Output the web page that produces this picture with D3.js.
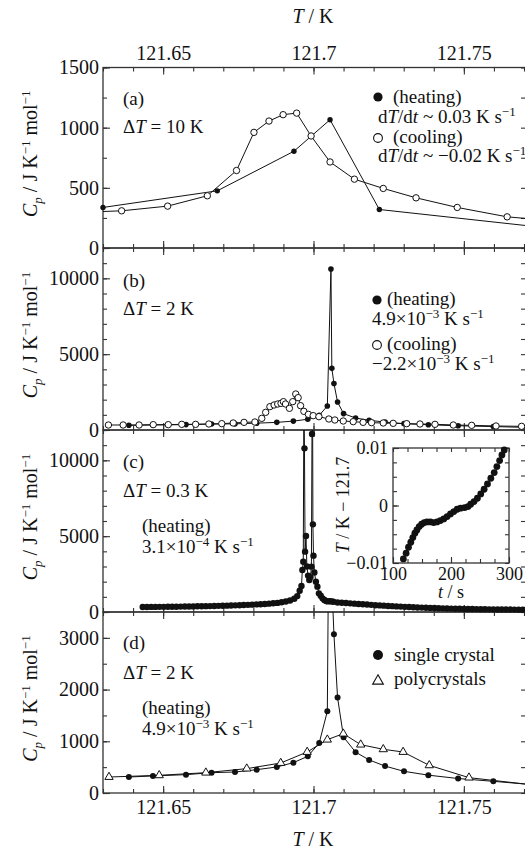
<!DOCTYPE html>
<html>
<head>
<meta charset="UTF-8">
<title>Cp near 121.7 K</title>
<script src="https://cdn.jsdelivr.net/npm/d3@7"></script>
<style>
  body { margin: 0; background: #fff; }
</style>
</head>
<body>
<script>
var FONT = "'Liberation Serif', 'Times New Roman', Times, serif";

// ---- data (T in K, Cp in J K^-1 mol^-1) ----
var xTickValues = [121.65, 121.7, 121.75];
var xTickLabels = ["121.65", "121.7", "121.75"];

// (a) dT = 10 K
var heatA = [[121.6300,337],[121.6680,475],[121.6935,804],[121.7055,1066],[121.7219,320],[121.7800,161]];
var coolA = [[121.6220,296],[121.6362,309],[121.6515,348],[121.6647,434],[121.6744,644],[121.6802,961],
  [121.6852,1055],[121.6899,1108],[121.6944,1121],[121.6992,931],[121.7055,715],[121.7136,572],
  [121.7232,495],[121.7341,417],[121.7478,337],[121.7644,259],[121.7800,225]];

// (b) and (d) single crystal, dT = 2 K, heating 4.9e-3 K/s
var heatB = [[121.6386,309],[121.6466,330],[121.6576,355],[121.6661,393],[121.6739,406],[121.6811,451],
  [121.6878,503],[121.6933,587],[121.6981,709],[121.7019,967],[121.7046,1580],[121.7058,10615],
  [121.7061,4066],[121.7068,3070],[121.7080,1845],[121.7100,1080],[121.7140,790],[121.7185,640],
  [121.7238,520],[121.7301,419],[121.7382,345],[121.7481,280],[121.7598,226],[121.7800,126]];
var coolB = [[121.6318,330],[121.6367,330],[121.6420,330],[121.6467,352],[121.6517,352],[121.6562,374],
  [121.6608,374],[121.6652,396],[121.6695,418],[121.6733,462],[121.6769,505],[121.6805,527],
  [121.6828,769],[121.6841,1165],[121.6855,1538],[121.6869,1648],[121.6881,1714],[121.6892,1758],
  [121.6900,1868],[121.6907,1714],[121.6920,1429],[121.6931,1868],[121.6941,2373],[121.6949,2132],
  [121.6957,1604],[121.6968,1231],[121.6983,1033],[121.6999,945],[121.7018,879],[121.7051,725],
  [121.7071,659],[121.7099,593],[121.7132,549],[121.7165,505],[121.7193,483],[121.7232,462],
  [121.7265,440],[121.7310,418],[121.7354,396],[121.7404,374],[121.7465,330],[121.7526,308],
  [121.7607,264],[121.7692,242]];

// (c) dT = 0.3 K, heating 3.1e-4 K/s
var heatC = [[121.6432,330],[121.6446,330],[121.6460,335],[121.6474,335],[121.6488,340],[121.6502,340],
  [121.6516,345],[121.6530,350],[121.6544,350],[121.6558,355],[121.6572,360],[121.6586,365],
  [121.6600,370],[121.6614,375],[121.6628,380],[121.6642,385],[121.6656,390],[121.6670,400],
  [121.6684,405],[121.6698,415],[121.6712,420],[121.6726,430],[121.6740,440],[121.6754,450],
  [121.6768,460],[121.6782,470],[121.6796,485],[121.6810,500],[121.6824,515],[121.6838,530],
  [121.6852,550],[121.6866,575],[121.6880,600],[121.6894,640],[121.6908,690],[121.6922,760],
  [121.6936,870],[121.6946,1050],[121.6954,1400],[121.6960,1714],[121.6963,2769],[121.6966,3318],
  [121.6968,14000],[121.6970,10791],[121.6972,3978],[121.6975,5011],[121.6978,3000],[121.6982,2400],
  [121.6986,2110],[121.6990,2300],[121.6993,2989],[121.6995,11736],[121.6997,14000],[121.6998,5780],
  [121.7000,3714],[121.7003,2600],[121.7008,2000],[121.7013,1670],[121.7018,1231],[121.7024,1077],
  [121.7030,901],[121.7036,791],[121.7042,725],[121.7048,700],[121.7054,720],[121.7060,700],
  [121.7066,680],[121.7080,630],[121.7094,610],[121.7108,590],[121.7122,570],[121.7136,550],
  [121.7150,530],[121.7164,510],[121.7178,490],[121.7192,470],[121.7206,450],[121.7220,435],
  [121.7234,420],[121.7248,400],[121.7262,385],[121.7276,370],[121.7290,355],[121.7304,340],
  [121.7318,330],[121.7332,315],[121.7346,300],[121.7360,290],[121.7374,280],[121.7388,270],
  [121.7402,260],[121.7416,250],[121.7430,240],[121.7444,232],[121.7458,225],[121.7472,218],
  [121.7486,210],[121.7500,205],[121.7514,200],[121.7528,195],[121.7542,190],[121.7556,185],
  [121.7570,180],[121.7584,176],[121.7598,172],[121.7612,168],[121.7626,165],[121.7640,162],
  [121.7654,160],[121.7668,158],[121.7682,156],[121.7696,154]];

// (c) inset: T - 121.7 vs t
var insetT = [117.9,122.6,126.7,130.7,134.2,137.7,141.2,145.2,149.3,153.9,158.6,164.3,170.1,175.9,
  181.7,187.5,193.3,199.1,204.9,210.7,216.5,223.5,229.3,233.9,239.7,245.5,251.3,257.1,262.9,268.7,
  274.5,279.1,283.8,287.8,291.8];
var insetV = [-0.00929,-0.0083,-0.00726,-0.00639,-0.00558,-0.00482,-0.00424,-0.00366,-0.00326,-0.00297,
  -0.00285,-0.00285,-0.00297,-0.00285,-0.00262,-0.00233,-0.00192,-0.00146,-0.00105,-0.00065,-0.00047,
  -0.00036,-0.00018,0.00022,0.00068,0.00126,0.00202,0.00283,0.00376,0.00474,0.00573,0.00677,0.00781,
  0.0088,0.00967];

// (d) polycrystals
var polyD = [[121.6320,309],[121.6487,342],[121.6642,393],[121.6778,471],[121.6891,580],[121.6979,793],
  [121.7046,1031],[121.7099,1147],[121.7157,935],[121.7232,845],[121.7298,793],[121.7385,535],
  [121.7517,297],[121.7800,110]];

// ---- layout ----
var svg = d3.select("body").append("svg").attr("width", 525).attr("height", 849)
  .attr("font-family", FONT);
var x = d3.scaleLinear().domain([121.63, 121.771]).range([103, 527]);
var xMinor = d3.range(12163, 12178).map(function(k){ return k/100; })
  .filter(function(v){ return v <= x.domain()[1]; });

var panels = [
  {id:"a", top:67.5, bottom:248, ymax:1500, major:[0,500,1000,1500], step:250},
  {id:"b", top:248, bottom:430, ymax:12000, major:[0,5000,10000], step:1000},
  {id:"c", top:430, bottom:612, ymax:12000, major:[0,5000,10000], step:1000},
  {id:"d", top:612, bottom:793, ymax:3500, major:[0,1000,2000,3000], step:500}
];

// text with italic / super / sub parts
function rich(t, parts){
  var shift = 0;
  parts.forEach(function(p){
    var s = p[1] || "";
    var target = s.indexOf("sup") >= 0 ? -7 : (s.indexOf("sub") >= 0 ? 5 : 0);
    var ts = t.append("tspan").text(p[0]).attr("dy", target - shift);
    shift = target;
    if (target !== 0) ts.attr("font-size", 13);
    if (s === "i" || s === "isub") ts.attr("font-style", "italic");
  });
  return t;
}
function label(xp, yp, parts, size, anchor){
  var t = svg.append("text").attr("x", xp).attr("y", yp).attr("fill", "#111")
    .attr("font-size", size || 19).attr("text-anchor", anchor || "start");
  return rich(t, parts);
}

function styleAxis(g, size){
  g.attr("font-family", FONT).attr("font-size", size);
  g.select(".domain").remove();
  g.selectAll("line").attr("stroke", "#333").attr("stroke-width", 1.1);
  g.selectAll("text").attr("fill", "#111");
}

var ys = {};
panels.forEach(function(p){
  var y = d3.scaleLinear().domain([0, p.ymax]).range([p.bottom, p.top]);
  ys[p.id] = y;
  var yMinor = d3.range(0, p.ymax + 1, p.step);
  var fmt = d3.format("d");

  svg.append("clipPath").attr("id", "clip-" + p.id).append("rect")
    .attr("x", x.range()[0]).attr("y", p.top)
    .attr("width", x.range()[1] - x.range()[0]).attr("height", p.bottom - p.top);

  // bottom / top
  svg.append("g").attr("transform", "translate(0," + p.bottom + ")")
    .call(d3.axisBottom(x).tickValues(xMinor).tickSize(-4).tickFormat("")).call(styleAxis, 20);
  svg.append("g").attr("transform", "translate(0," + p.bottom + ")")
    .call(d3.axisBottom(x).tickValues(xTickValues).tickSize(-7).tickPadding(7)
      .tickFormat(function(d, i){ return p.id === "d" ? xTickLabels[i] : ""; }))
    .call(styleAxis, 20);
  svg.append("g").attr("transform", "translate(0," + p.top + ")")
    .call(d3.axisTop(x).tickValues(xMinor).tickSize(-4).tickFormat("")).call(styleAxis, 20);
  svg.append("g").attr("transform", "translate(0," + p.top + ")")
    .call(d3.axisTop(x).tickValues(xTickValues).tickSize(-7).tickPadding(8)
      .tickFormat(function(d, i){ return p.id === "a" ? xTickLabels[i] : ""; }))
    .call(styleAxis, 20);
  // left / right
  svg.append("g").attr("transform", "translate(" + x.range()[0] + ",0)")
    .call(d3.axisLeft(y).tickValues(yMinor).tickSize(-4).tickFormat("")).call(styleAxis, 20);
  svg.append("g").attr("transform", "translate(" + x.range()[0] + ",0)")
    .call(d3.axisLeft(y).tickValues(p.major).tickSize(-7).tickPadding(4).tickFormat(fmt))
    .call(styleAxis, 20);
  svg.append("g").attr("transform", "translate(" + x.range()[1] + ",0)")
    .call(d3.axisRight(y).tickValues(yMinor).tickSize(-6).tickFormat("")).call(styleAxis, 20);

  svg.append("rect").attr("x", x.range()[0]).attr("y", p.top)
    .attr("width", x.range()[1] - x.range()[0]).attr("height", p.bottom - p.top)
    .attr("fill", "none").attr("stroke", "#333").attr("stroke-width", 1.3);

  // y title
  var t = svg.append("text").attr("text-anchor", "middle").attr("font-size", 20).attr("fill", "#111")
    .attr("transform", "translate(37," + ((p.top + p.bottom) / 2 - 4) + ") rotate(-90)");
  rich(t, [["C","i"],["p","isub"],[" / J K",""],["\u22121","sup"],[" mol",""],["\u22121","sup"]]);
});

// axis titles
label(313, 23, [["T","i"],[" / K",""]], 20, "middle");
label(313, 846, [["T","i"],[" / K",""]], 20, "middle");

// ---- series ----
function inside(p, d){
  return d[0] >= x.domain()[0] && d[0] <= x.domain()[1] && d[1] <= p.ymax;
}
function drawLine(p, data){
  var y = ys[p.id];
  svg.append("path").datum(data)
    .attr("clip-path", "url(#clip-" + p.id + ")")
    .attr("fill", "none").attr("stroke", "#111").attr("stroke-width", 1)
    .attr("d", d3.line().x(function(d){ return x(d[0]); }).y(function(d){ return y(d[1]); }));
}
function drawDots(p, data, r, open){
  var y = ys[p.id];
  svg.append("g").selectAll("circle")
    .data(data.filter(function(d){ return inside(p, d); }))
    .enter().append("circle")
      .attr("cx", function(d){ return x(d[0]); })
      .attr("cy", function(d){ return y(d[1]); })
      .attr("r", r)
      .attr("fill", open ? "#fff" : "#111")
      .attr("stroke", "#111").attr("stroke-width", open ? 1 : 0);
}
function drawTri(p, data, size){
  var y = ys[p.id];
  svg.append("g").selectAll("path")
    .data(data.filter(function(d){ return inside(p, d); }))
    .enter().append("path")
      .attr("transform", function(d){ return "translate(" + x(d[0]) + "," + y(d[1]) + ")"; })
      .attr("d", d3.symbol(d3.symbolTriangle, size))
      .attr("fill", "#fff").attr("stroke", "#111").attr("stroke-width", 1);
}

var pa = panels[0], pb = panels[1], pc = panels[2], pd = panels[3];

drawLine(pa, heatA); drawLine(pa, coolA);
drawDots(pa, heatA, 2.7, false); drawDots(pa, coolA, 3.2, true);

drawLine(pb, heatB); drawLine(pb, coolB);
drawDots(pb, heatB, 2.8, false); drawDots(pb, coolB, 3.2, true);

drawLine(pc, heatC);
drawDots(pc, heatC, 3.2, false);

drawLine(pd, heatB); drawLine(pd, polyD);
drawDots(pd, heatB, 3, false); drawTri(pd, polyD, 30);

// ---- inset in (c) ----
var ix = d3.scaleLinear().domain([100, 300]).range([393, 509]);
var iy = d3.scaleLinear().domain([-0.01, 0.01]).range([563, 448]);
svg.append("rect").attr("x", 393).attr("y", 448).attr("width", 116).attr("height", 115).attr("fill", "#fff");
svg.append("g").attr("transform", "translate(0,563)")
  .call(d3.axisBottom(ix).tickValues(d3.range(100, 301, 25)).tickSize(-4).tickFormat("")).call(styleAxis, 18);
svg.append("g").attr("transform", "translate(0,563)")
  .call(d3.axisBottom(ix).tickValues([100, 200, 300]).tickSize(-6).tickPadding(4)).call(styleAxis, 18);
svg.append("g").attr("transform", "translate(0,448)")
  .call(d3.axisTop(ix).tickValues(d3.range(100, 301, 25)).tickSize(-4).tickFormat("")).call(styleAxis, 18);
svg.append("g").attr("transform", "translate(393,0)")
  .call(d3.axisLeft(iy).tickValues(d3.range(-0.01, 0.0101, 0.0025)).tickSize(-4).tickFormat("")).call(styleAxis, 18);
svg.append("g").attr("transform", "translate(393,0)")
  .call(d3.axisLeft(iy).tickValues([-0.01, 0, 0.01]).tickSize(-6).tickPadding(5)
    .tickFormat(function(d){ return d === 0 ? "0" : (d < 0 ? "\u22120.01" : "0.01"); }))
  .call(styleAxis, 18);
svg.append("g").attr("transform", "translate(509,0)")
  .call(d3.axisRight(iy).tickValues(d3.range(-0.01, 0.0101, 0.0025)).tickSize(-4).tickFormat("")).call(styleAxis, 18);
svg.append("rect").attr("x", 393).attr("y", 448).attr("width", 116).attr("height", 115)
  .attr("fill", "none").attr("stroke", "#333").attr("stroke-width", 1.3);
svg.append("g").selectAll("circle").data(insetT).enter().append("circle")
  .attr("cx", function(d){ return ix(d); })
  .attr("cy", function(d, i){ return iy(insetV[i]); })
  .attr("r", 3.4).attr("fill", "#111");
var it = svg.append("text").attr("text-anchor", "middle").attr("font-size", 18).attr("fill", "#111")
  .attr("transform", "translate(349,505) rotate(-90)");
rich(it, [["T","i"],[" / K \u2212 121.7",""]]);
label(451, 598, [["t","i"],[" / s",""]], 18, "middle");

// ---- annotations ----
label(123, 105, [["(a)",""]]);
label(123, 133, [["\u0394",""],["T","i"],[" = 10 K",""]]);
svg.append("circle").attr("cx", 378).attr("cy", 97).attr("r", 4.6).attr("fill", "#111");
label(393, 103, [["(heating)",""]]);
label(378, 123, [["d",""],["T","i"],["/d",""],["t","i"],[" ~ 0.03 K s",""],["\u22121","sup"]]);
svg.append("circle").attr("cx", 378).attr("cy", 138).attr("r", 4.4).attr("fill", "#fff").attr("stroke", "#111").attr("stroke-width", 1.1);
label(393, 143, [["(cooling)",""]]);
label(378, 162, [["d",""],["T","i"],["/d",""],["t","i"],[" ~ \u22120.02 K s",""],["\u22121","sup"]]);

label(123, 287, [["(b)",""]]);
label(123, 315, [["\u0394",""],["T","i"],[" = 2 K",""]]);
svg.append("circle").attr("cx", 377).attr("cy", 300).attr("r", 4.6).attr("fill", "#111");
label(387, 305, [["(heating)",""]]);
label(372, 325, [["4.9\u00d710",""],["\u22123","sup"],[" K s",""],["\u22121","sup"]]);
svg.append("circle").attr("cx", 377).attr("cy", 345).attr("r", 4.4).attr("fill", "#fff").attr("stroke", "#111").attr("stroke-width", 1.1);
label(387, 350, [["(cooling)",""]]);
label(372, 370, [["\u22122.2\u00d710",""],["\u22123","sup"],[" K s",""],["\u22121","sup"]]);

label(123, 468, [["(c)",""]]);
label(123, 497, [["\u0394",""],["T","i"],[" = 0.3 K",""]]);
label(142, 532, [["(heating)",""]]);
label(142, 553, [["3.1\u00d710",""],["\u22124","sup"],[" K s",""],["\u22121","sup"]]);

label(123, 649, [["(d)",""]]);
label(123, 679, [["\u0394",""],["T","i"],[" = 2 K",""]]);
label(142, 714, [["(heating)",""]]);
label(142, 735, [["4.9\u00d710",""],["\u22123","sup"],[" K s",""],["\u22121","sup"]]);
svg.append("circle").attr("cx", 378).attr("cy", 655).attr("r", 5).attr("fill", "#111");
label(394, 661, [["single crystal",""]]);
svg.append("path").attr("transform", "translate(378,681)")
  .attr("d", d3.symbol(d3.symbolTriangle, 50)).attr("fill", "#fff").attr("stroke", "#111").attr("stroke-width", 1.1);
label(394, 685, [["polycrystals",""]]);
</script>
</body>
</html>
